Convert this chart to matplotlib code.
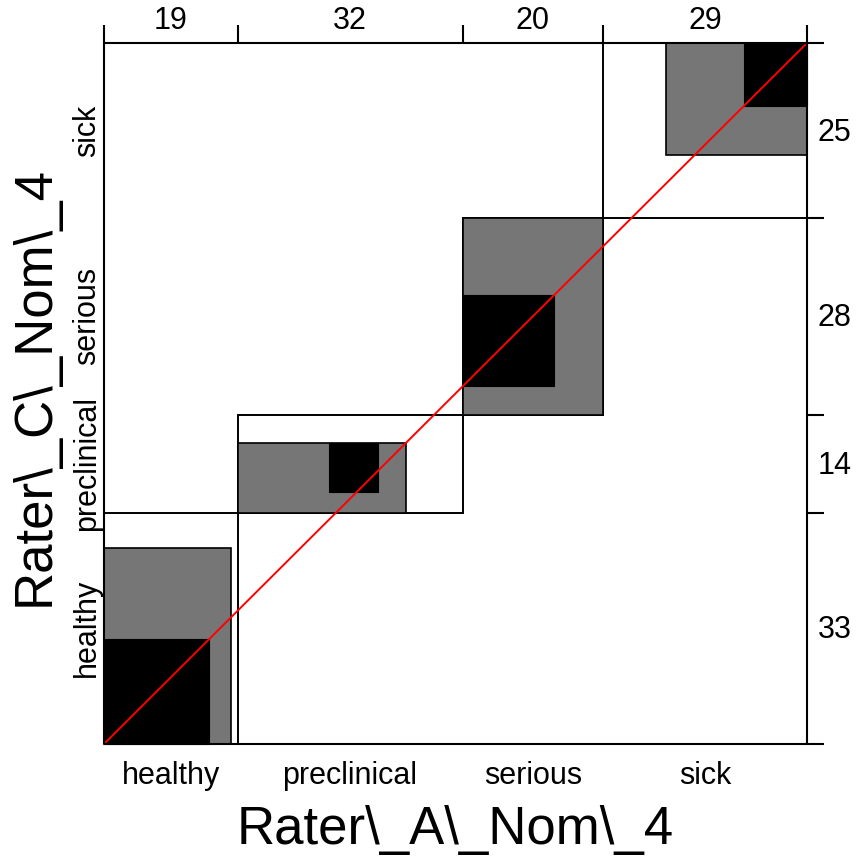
import numpy as np
import matplotlib
matplotlib.use('Agg')
import matplotlib.pyplot as plt
from matplotlib.patches import Rectangle

plt.rcParams['font.family'] = ['Liberation Sans', 'DejaVu Sans']

categories = ['healthy', 'preclinical', 'serious', 'sick']
# rows: Rater_C, columns: Rater_A
table = np.array([
    [15, 13, 0, 5],
    [3, 7, 0, 4],
    [0, 4, 13, 11],
    [1, 8, 7, 9],
])

col_tot = table.sum(axis=0)   # Rater_A margins
row_tot = table.sum(axis=1)   # Rater_C margins
xs = np.concatenate([[0], np.cumsum(col_tot)])
ys = np.concatenate([[0], np.cumsum(row_tot)])
n = len(categories)
total = table.sum()

fig = plt.figure(figsize=(8.59, 8.61), dpi=100)
ax = fig.add_axes([104 / 859, (861 - 744) / 861, 703 / 859, 701 / 861])
ax.set_xlim(0, total)
ax.set_ylim(0, total)
ax.axis('off')

for i in range(n):
    # marginal rectangle
    ax.add_patch(Rectangle((xs[i], ys[i]), col_tot[i], row_tot[i],
                           facecolor='white', edgecolor='black', lw=1.4, clip_on=False))
    # partial agreement (one step off the diagonal)
    lo, hi = max(0, i - 1), min(n, i + 2)
    gx = xs[i] + table[:lo, i].sum()
    gy = ys[i] + table[i, :lo].sum()
    gw = table[lo:hi, i].sum()
    gh = table[i, lo:hi].sum()
    ax.add_patch(Rectangle((gx, gy), gw, gh, facecolor='#767676',
                           edgecolor='black', lw=1.2, clip_on=False))
    # exact agreement
    bx = xs[i] + table[:i, i].sum()
    by = ys[i] + table[i, :i].sum()
    ax.add_patch(Rectangle((bx, by), table[i, i], table[i, i], facecolor='black',
                           edgecolor='black', lw=0.8, clip_on=False))

ax.plot([0, total], [0, total], color='red', lw=1.4, clip_on=False)

# frame and ticks
k = dict(color='black', lw=1.5, clip_on=False, solid_capstyle='butt')
ax.plot([0, total], [total, total], **k)
ax.plot([0, total], [0, 0], **k)
ax.plot([0, 0], [0, total], **k)
ax.plot([total, total], [0, total], **k)
for x in xs:
    ax.plot([x, x], [total, total + 2.57], **k)
for y in ys:
    ax.plot([total, total + 2.42], [y, y], **k)

xc = (xs[:-1] + xs[1:]) / 2
yc = (ys[:-1] + ys[1:]) / 2
for i in range(n):
    ax.annotate(str(col_tot[i]), (xc[i], 1), xycoords=('data', 'axes fraction'),
                xytext=(0, 16), textcoords='offset points', ha='center', va='center', fontsize=22)
    ax.annotate(categories[i], (xc[i], 0), xycoords=('data', 'axes fraction'),
                xytext=(0, -23), textcoords='offset points', ha='center', va='center', fontsize=22)
    ax.annotate(str(row_tot[i]), (1, yc[i]), xycoords=('axes fraction', 'data'),
                xytext=(20, -1.5), textcoords='offset points', ha='center', va='center', fontsize=22)
    ax.annotate(categories[i], (0, yc[i]), xycoords=('axes fraction', 'data'),
                xytext=(-12, 0), textcoords='offset points', ha='center', va='center',
                rotation=90, fontsize=22)

ax.annotate('Rater\\_A\\_Nom\\_4', (0.5, 0), xycoords='axes fraction',
            xytext=(0, -62), textcoords='offset points', ha='center', va='center', fontsize=38)
ax.annotate('Rater\\_C\\_Nom\\_4', (0, 0.51), xycoords='axes fraction',
            xytext=(-50, 0), textcoords='offset points', ha='center', va='center',
            rotation=90, fontsize=38)

fig.savefig('out.png', dpi=100)
